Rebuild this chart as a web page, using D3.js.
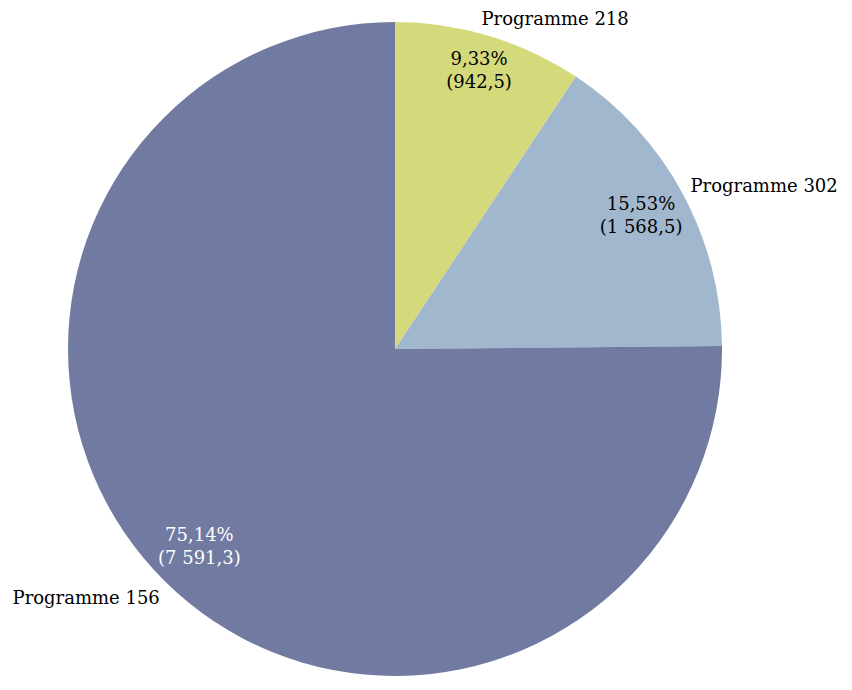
<!DOCTYPE html>
<html><head><meta charset="utf-8">
<script src="https://cdn.jsdelivr.net/npm/d3@7"></script>
<style>body{margin:0;background:#fff}svg{display:block}text{font-family:"DejaVu Serif",serif}</style>
</head><body><svg id="c" width="852" height="690"></svg>
<script>
const categories = ["Programme 218", "Programme 302", "Programme 156"];
const values = [942.5, 1568.5, 7591.3];
const percentLabels = ["9,33%", "15,53%", "75,14%"];
const valueLabels = ["(942,5)", "(1 568,5)", "(7 591,3)"];
const colors = ["#D4DA7C", "#A1B7CD", "#717AA0"];
const textColors = ["#000", "#000", "#fff"];

const cx = 395, cy = 349, R = 327;
const svg = d3.select("#c");
const g = svg.append("g").attr("transform", `translate(${cx},${cy})`);
const pie = d3.pie().sort(null).value(d => d)(values);
const arc = d3.arc().innerRadius(0).outerRadius(R);
g.selectAll("path").data(pie).join("path")
  .attr("d", arc).attr("fill", (d, i) => colors[i]);

const labelR = [0.89, 0.856, 0.85];
const fs = 18;
pie.forEach((d, i) => {
  const la = d3.arc().innerRadius(R * labelR[i]).outerRadius(R * labelR[i]);
  const [x, y] = la.centroid(d);
  const t = g.append("text").attr("text-anchor", "middle").attr("fill", textColors[i]).attr("font-size", fs);
  t.append("tspan").attr("x", x).attr("y", y - 5.5).text(percentLabels[i]);
  t.append("tspan").attr("x", x).attr("y", y + 17.5).text(valueLabels[i]);
});
const outer = d3.arc().innerRadius(R).outerRadius(R);
const offs = [[-8, -11, "start"], [8, -1, "start"], [-5, 23, "end"]];
pie.forEach((d, i) => {
  const [x, y] = outer.centroid(d);
  g.append("text").attr("x", x + offs[i][0]).attr("y", y + offs[i][1])
    .attr("text-anchor", offs[i][2]).attr("font-size", fs).attr("fill", "#000")
    .text(categories[i]);
});
</script></body></html>
